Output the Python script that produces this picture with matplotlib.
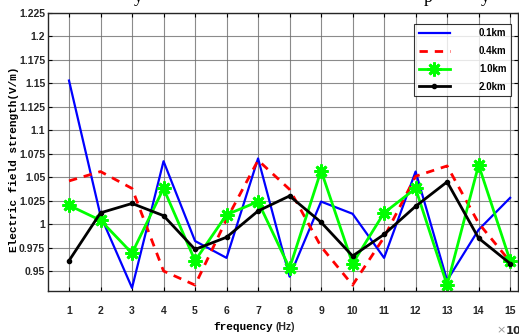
import matplotlib
matplotlib.use("Agg")
import matplotlib.pyplot as plt
import numpy as np

freq = np.arange(1, 16)
e_01 = [1.153, 1.009, 0.932, 1.067, 0.982, 0.964, 1.070, 0.944, 1.024, 1.011, 0.964, 1.056, 0.940, 0.994, 1.028]
e_04 = [1.046, 1.056, 1.038, 0.950, 0.935, 1.005, 1.068, 1.037, 0.976, 0.935, 0.986, 1.051, 1.062, 1.001, 0.960]
e_10 = [1.020, 1.004, 0.969, 1.038, 0.961, 1.010, 1.024, 0.953, 1.057, 0.958, 1.012, 1.038, 0.935, 1.063, 0.961]
e_20 = [0.961, 1.012, 1.022, 1.009, 0.973, 0.986, 1.014, 1.030, 1.002, 0.966, 0.989, 1.019, 1.045, 0.985, 0.958]
labels = ["0.1km", "0.4km", "1.0km", "2.0km"]
yticks = [0.95, 0.975, 1.0, 1.025, 1.05, 1.075, 1.1, 1.125, 1.15, 1.175, 1.2, 1.225]
ytick_labels = ["0.95", "0.975", "1", "1.025", "1.05", "1.075", "1.1", "1.125", "1.15", "1.175", "1.2", "1.225"]

W, H = 519, 336
fig = plt.figure(figsize=(W / 100, H / 100), dpi=100)
L, R, T, B = 48, 518, 13, 291
ax = fig.add_axes([L / W, 1 - B / H, (R - L) / W, (B - T) / H])

ax.plot(freq, e_01, color=(0, 0, 1), lw=1.6, label=labels[0])
ax.plot(freq, e_04, color=(1, 0, 0), lw=2, ls=(0, (3, 2.5)), label=labels[1])
ax.plot(freq, e_10, color=(0, 1, 0), lw=2, marker=(8, 2, 0), ms=10, mew=2, label=labels[2])
ax.plot(freq, e_20, color='black', lw=2, marker='.', ms=6, label=labels[3])

ax.set_xlim(0.333, 15.25)
ax.set_ylim(0.9287, 1.225)
ax.set_xticks(freq)
ax.set_xticklabels([str(i) for i in freq], fontsize=7.5, fontweight='bold', family='Liberation Sans', color='#262626')
ax.set_yticks(yticks)
ax.set_yticklabels(ytick_labels, fontsize=7.5, fontweight='bold', family='Liberation Sans', color='#262626')
ax.tick_params(direction='in', top=True, right=True, length=3, width=0.8, pad=11)
ax.tick_params(axis='y', pad=2)
ax.grid(True, color='#6e6e6e', lw=0.8, alpha=0.8)
for s in ax.spines.values():
    s.set_linewidth(1)
    s.set_color('#262626')

fig.text(14 / W, 1 - 159 / H, "Electric field strength(V/m)", family='Liberation Mono', fontweight='bold',
         fontsize=8, rotation=90, ha='center', va='center')

fig.text(273 / W, 1 - 327 / H, "frequency", family='Liberation Mono', fontweight='bold', fontsize=8,
         ha='right', va='center')
fig.text(275 / W, 1 - 327 / H, "(Hz)", family='Liberation Sans', fontweight='bold', fontsize=7.5,
         ha='left', va='center', color='#262626')
fig.text(496 / W, 1 - 330 / H, "\u00d7", fontsize=8, color='#999999', ha='left', va='center')
fig.text(505 / W, 1 - 330 / H, "10$^{6}$", fontsize=8, fontweight='bold', color='#262626', ha='left', va='center')

# descenders of a cut-off title above
for xp, ch in [(134, "y"), (424, "p"), (481, "y")]:
    fig.text(xp / W, 1 - 1.5 / H, ch, family='Liberation Serif', fontsize=13, ha='left', va='baseline')

leg = ax.legend(loc='upper right', bbox_to_anchor=((511 - L) / (R - L), 1 - (24 - T) / (B - T)),
                borderaxespad=0,
                prop={'family': 'Liberation Sans', 'weight': 'bold', 'size': 7},
                frameon=True, fancybox=False, edgecolor='black', handlelength=3.2,
                borderpad=0.45, labelspacing=0.8, handletextpad=3.0)
leg.get_frame().set_linewidth(0.8)
for t in leg.get_texts():
    t.set_ha('right')

fig.savefig("out.png", dpi=100)
